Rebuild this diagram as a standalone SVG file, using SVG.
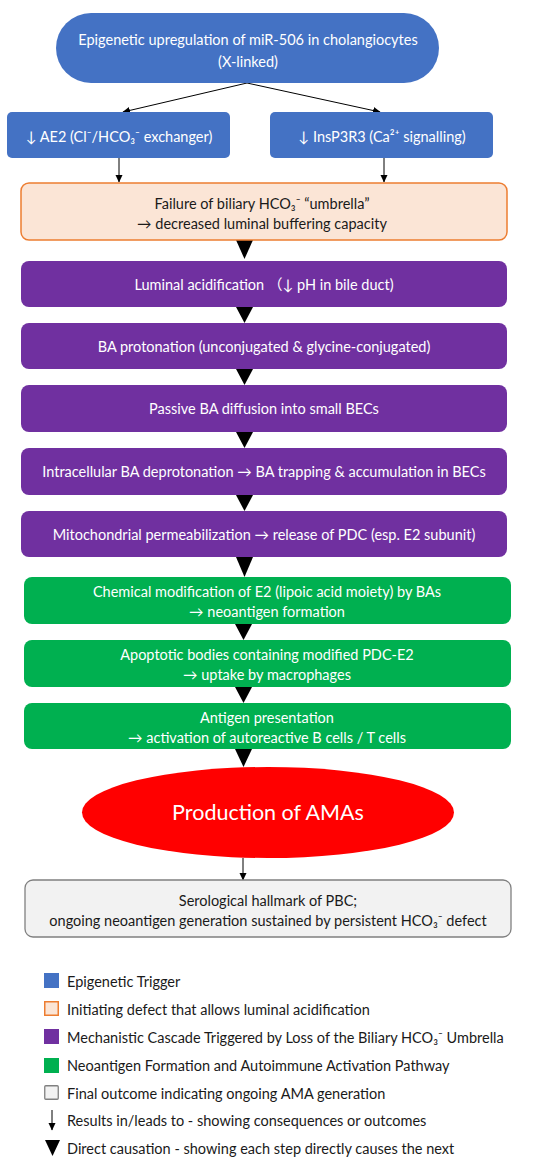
<svg xmlns="http://www.w3.org/2000/svg" width="550" height="1165" viewBox="0 0 550 1165">
<defs>
<marker id="ah" markerWidth="8" markerHeight="8" refX="7" refY="4" orient="auto" markerUnits="userSpaceOnUse">
<path d="M0,0.5 L7.5,4 L0,7.5 Z" fill="#000"/>
</marker>
<style>
text{font-family:Lato,"Noto Sans","Noto Sans CJK SC",sans-serif;font-size:14.5px;text-anchor:middle;dominant-baseline:central}
.w{fill:#fff}
.d{fill:#1a1a1a}
.blue{fill:#4472C4}
.purple{fill:#7030A0}
.green{fill:#00B050}
.orange{fill:#FBE5D6;stroke:#ED7D31;stroke-width:1.5}
.grey{fill:#F2F2F2;stroke:#808080;stroke-width:1.3}
.thin{stroke:#000;stroke-width:1;fill:none;marker-end:url(#ah)}
.tri{fill:#000}
.leg{text-anchor:start;fill:#1a1a1a}
</style>
</defs>
<rect width="550" height="1165" fill="#fff"/>

<g id="connectors">
<line class="thin" x1="247" y1="83" x2="123" y2="112"/>
<line class="thin" x1="247" y1="83" x2="380" y2="112"/>
<line class="thin" x1="119" y1="158" x2="119" y2="182"/>
<line class="thin" x1="384" y1="158" x2="384" y2="182"/>
<line class="thin" x1="243" y1="858" x2="243" y2="880"/>
<polygon class="tri" points="236,240 253,240 244.5,259"/>
<polygon class="tri" points="236,307 253,307 244.5,323"/>
<polygon class="tri" points="236,369 253,369 244.5,385"/>
<polygon class="tri" points="236,432 253,432 244.5,448"/>
<polygon class="tri" points="236,495 253,495 244.5,511"/>
<polygon class="tri" points="236,557 253,557 244.5,577"/>
<polygon class="tri" points="235,624 252,624 243.5,640"/>
<polygon class="tri" points="235,687 252,687 243.5,703"/>
<polygon class="tri" points="235,749 252,749 243.5,767"/>
</g>

<g id="n-mir506">
<rect class="blue" x="56" y="13" width="383" height="70" rx="35"/>
<text class="w" x="248" y="39">Epigenetic upregulation of miR-506 in cholangiocytes</text>
<text class="w" x="248" y="61">(X-linked)</text>
</g>

<g id="n-ae2">
<rect class="blue" x="7" y="112" width="223" height="46" rx="5"/>
<text class="w" x="119" y="136">↓ AE2 (Cl⁻/HCO₃⁻ exchanger)</text>
</g>

<g id="n-insp3r3">
<rect class="blue" x="270" y="112" width="223" height="46" rx="5"/>
<text class="w" x="382" y="136">↓ InsP3R3 (Ca²⁺ signalling)</text>
</g>

<g id="n-failure">
<rect class="orange" x="21" y="183" width="486" height="57" rx="8"/>
<text class="d" x="262" y="203">Failure of biliary HCO₃⁻ “umbrella”</text>
<text class="d" x="262" y="223">→ decreased luminal buffering capacity</text>
</g>

<g id="n-acid">
<rect class="purple" x="21" y="261" width="486" height="46" rx="8"/>
<text class="w" x="264" y="284">Luminal acidification （↓ pH in bile duct)</text>
</g>

<g id="n-protonation">
<rect class="purple" x="21" y="323" width="486" height="46" rx="8"/>
<text class="w" x="264" y="346">BA protonation (unconjugated &amp; glycine-conjugated)</text>
</g>

<g id="n-diffusion">
<rect class="purple" x="21" y="385" width="486" height="47" rx="8"/>
<text class="w" x="264" y="408.5">Passive BA diffusion into small BECs</text>
</g>

<g id="n-deprotonation">
<rect class="purple" x="21" y="448" width="486" height="47" rx="8"/>
<text class="w" x="264" y="471.5">Intracellular BA deprotonation → BA trapping &amp; accumulation in BECs</text>
</g>

<g id="n-mito">
<rect class="purple" x="21" y="511" width="486" height="46" rx="8"/>
<text class="w" x="264" y="534">Mitochondrial permeabilization → release of PDC (esp. E2 subunit)</text>
</g>

<g id="n-chemmod">
<rect class="green" x="24" y="577" width="487" height="47" rx="8"/>
<text class="w" x="267" y="591">Chemical modification of E2 (lipoic acid moiety) by BAs</text>
<text class="w" x="267" y="611">→ neoantigen formation</text>
</g>

<g id="n-apoptotic">
<rect class="green" x="24" y="640" width="487" height="47" rx="8"/>
<text class="w" x="267" y="654">Apoptotic bodies containing modified PDC-E2</text>
<text class="w" x="267" y="674">→ uptake by macrophages</text>
</g>

<g id="n-antigen">
<rect class="green" x="24" y="703" width="487" height="46" rx="8"/>
<text class="w" x="267" y="717">Antigen presentation</text>
<text class="w" x="267" y="737">→ activation of autoreactive B cells / T cells</text>
</g>

<g id="n-ama">
<ellipse cx="268" cy="812.5" rx="186" ry="45.5" fill="#FF0000"/>
<text class="w" x="268" y="812" style="font-size:21.5px">Production of AMAs</text>
</g>

<g id="n-serological">
<rect class="grey" x="25" y="880" width="486" height="57" rx="8"/>
<text class="d" x="268" y="900">Serological hallmark of PBC;</text>
<text class="d" x="268" y="920">ongoing neoantigen generation sustained by persistent HCO₃⁻ defect</text>
</g>

<g id="legend">
<rect class="blue" x="44" y="973" width="15" height="15"/>
<text class="leg" x="67" y="981">Epigenetic Trigger</text>
<rect class="orange" x="44.75" y="1001.75" width="13.5" height="13.5"/>
<text class="leg" x="67" y="1009">Initiating defect that allows luminal acidification</text>
<rect class="purple" x="44" y="1029" width="15" height="15"/>
<text class="leg" x="67" y="1037">Mechanistic Cascade Triggered by Loss of the Biliary HCO₃⁻ Umbrella</text>
<rect class="green" x="44" y="1058" width="15" height="15"/>
<text class="leg" x="67" y="1065">Neoantigen Formation and Autoimmune Activation Pathway</text>
<rect class="grey" x="44.75" y="1085.75" width="13.5" height="13.5" rx="1"/>
<text class="leg" x="67" y="1093">Final outcome indicating ongoing AMA generation</text>
<line class="thin" x1="52" y1="1110" x2="52" y2="1130"/>
<text class="leg" x="67" y="1120">Results in/leads to - showing consequences or outcomes</text>
<polygon class="tri" points="45,1140 60,1140 52.5,1156"/>
<text class="leg" x="67" y="1148">Direct causation - showing each step directly causes the next</text>
</g>
</svg>
